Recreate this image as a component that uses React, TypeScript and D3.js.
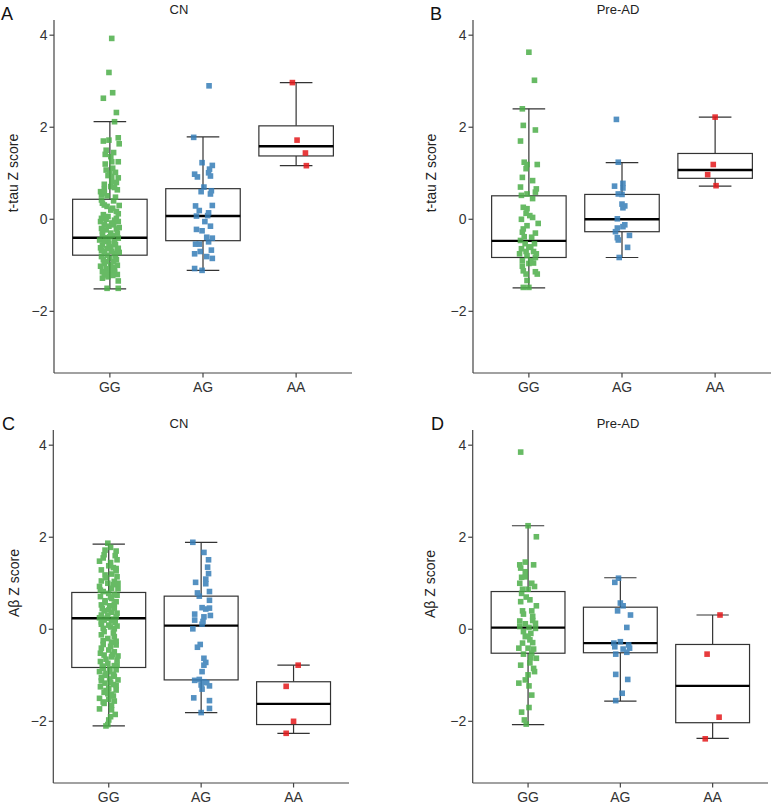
import React from "react";
import * as d3 from "d3";

// ---------- categories, ticks, colours ----------
const CATS = ["GG", "AG", "AA"];
const Y_TICKS = [-2, 0, 2, 4];
const Y_DOMAIN: [number, number] = [-3.34, 4.33];
const COLORS = ["#4DAF4A", "#377EB8", "#E41A1C"];

// ---------- box statistics [lower whisker, q1, median, q3, upper whisker] per genotype ----------
const tauCnBox = [
  [-1.51, -0.78, -0.4, 0.435, 2.12],
  [-1.11, -0.465, 0.072, 0.665, 1.79],
  [1.165, 1.376, 1.587, 2.03, 2.97],
];
const tauPreBox = [
  [-1.49, -0.83, -0.47, 0.51, 2.4],
  [-0.83, -0.27, 0.0, 0.54, 1.23],
  [0.72, 0.89, 1.07, 1.43, 2.22],
];
const abCnBox = [
  [-2.1, -0.83, 0.24, 0.8, 1.85],
  [-1.81, -1.1, 0.08, 0.72, 1.89],
  [-2.26, -2.07, -1.62, -1.14, -0.78],
];
const abPreBox = [
  [-2.07, -0.52, 0.035, 0.82, 2.25],
  [-1.56, -0.51, -0.3, 0.48, 1.12],
  [-2.37, -2.03, -1.23, -0.33, 0.31],
];

// ---------- jittered points [horizontal jitter (fraction of step), Z score] ----------
const tauCnGG = [
  [0.02, 3.93], [-0.01, 3.19], [0.03, 2.75], [-0.07, 2.63], [0.07, 2.32], [0.05, 2.12], [0.09, 1.77], [0.1, 1.64],
  [-0.07, 1.7], [-0.01, 1.72], [-0.04, 1.5], [-0.05, 1.41], [0.01, 1.36], [0.02, 1.25], [0.09, 1.25], [-0.04, 1.07],
  [0.03, 1.11], [0.0, 1.0], [0.02, 0.93], [0.09, 0.9], [-0.06, 0.76], [0.01, 0.71], [0.05, 0.69], [0.08, 0.64],
  [-0.09, 0.54], [-0.06, 0.57], [-0.03, 0.51], [0.06, 0.48], [-0.09, 0.42], [-0.08, 0.35], [-0.06, 0.31], [0.03, 0.24],
  [0.07, 0.17], [0.01, 0.2], [-0.09, 0.02], [-0.02, 0.06], [0.07, 0.02], [-0.1, -0.05], [-0.06, -0.12], [0.04, -0.12],
  [0.09, -0.05], [-0.09, -0.2], [-0.04, -0.23], [0.07, -0.21], [0.01, -0.3], [-0.08, -0.34], [0.09, -0.41], [-0.11, -0.45],
  [-0.02, -0.45], [0.05, -0.49], [-0.08, -0.56], [0.01, -0.6], [0.09, -0.63], [-0.06, -0.7], [0.05, -0.74], [-0.09, -0.81],
  [0.0, -0.85], [0.07, -0.88], [-0.06, -0.96], [0.01, -0.99], [-0.04, -1.07], [0.05, -1.08], [-0.08, -1.14], [0.0, -1.17],
  [0.05, -1.15], [-0.06, -1.21], [0.09, -1.34], [-0.03, -1.5], [0.09, -1.5],
  [-0.1, -0.62], [0.1, -0.72], [-0.03, -0.78], [0.04, -0.92], [-0.1, -1.02], [0.08, -1.2], [-0.02, -1.25], [0.03, -1.05],
  [-0.07, -0.88], [0.06, -0.55], [-0.05, -0.4], [0.08, -0.3], [-0.01, -0.15], [0.05, -0.02], [-0.07, 0.1], [0.09, 0.12],
  [-0.03, 0.28], [0.04, 0.4], [-0.06, 0.65], [0.02, 0.82], [-0.02, 0.95], [0.06, 1.02], [-0.05, 1.2], [0.04, 1.45],
  [-0.09, -0.68], [0.02, -0.7], [-0.04, -0.92], [0.08, -1.0], [-0.08, -1.28], [0.0, -1.1], [0.06, -0.8], [-0.01, -0.52],
  [0.03, -0.36], [-0.08, -0.26], [0.1, -0.18], [-0.04, 0.0], [0.02, -0.08], [0.1, 0.3], [-0.1, 0.6], [0.07, 0.8],
  [-0.05, -1.18], [0.03, -1.22], [0.08, -0.66], [-0.03, -0.64], [0.0, -0.38], [-0.06, -0.48],
];
const tauCnAG = [
  [0.065, 2.9], [-0.1, 1.78], [-0.01, 1.23], [0.1, 1.17], [0.07, 1.09], [0.06, 1.01], [-0.09, 0.98], [-0.06, 0.92],
  [0.08, 0.94], [0.01, 0.7], [0.09, 0.62], [-0.02, 0.6], [0.08, 0.55], [-0.08, 0.29], [0.1, 0.3], [-0.04, 0.19],
  [0.06, 0.14], [0.05, 0.08], [-0.07, 0.07], [0.02, -0.05], [0.08, -0.15], [-0.07, -0.22], [-0.01, -0.25], [0.04, -0.39],
  [0.1, -0.41], [0.06, -0.49], [-0.08, -0.54], [-0.04, -0.54], [0.09, -0.67], [-0.03, -0.7], [-0.09, -0.75], [0.04, -0.81],
  [0.1, -0.85], [-0.09, -1.07], [-0.01, -1.11],
];
const tauCnAA = [[-0.04, 2.97], [0.01, 1.72], [0.1, 1.44], [0.11, 1.165]];

const tauPreGG = [
  [0.0, 3.63], [0.06, 3.02], [-0.07, 2.4], [-0.06, 2.04], [0.07, 1.94], [-0.09, 1.7], [-0.05, 1.24], [-0.02, 1.19],
  [0.09, 1.19], [-0.03, 1.1], [-0.07, 0.91], [0.04, 0.84], [-0.09, 0.7], [0.08, 0.66], [0.07, 0.59], [-0.08, 0.52],
  [-0.02, 0.55], [-0.06, 0.26], [-0.02, 0.23], [-0.03, 0.13], [0.01, 0.08], [0.04, 0.04], [0.1, -0.09], [-0.02, -0.14],
  [-0.06, -0.21], [-0.07, -0.28], [0.07, -0.3], [0.03, -0.39], [-0.09, -0.46], [-0.04, -0.53], [0.06, -0.53], [-0.08, -0.64],
  [0.0, -0.61], [0.05, -0.7], [-0.1, -0.75], [-0.02, -0.79], [0.07, -0.83], [-0.07, -0.9], [0.0, -0.96], [0.02, -0.9],
  [-0.06, -1.12], [-0.03, -1.19], [0.07, -1.14], [0.09, -1.19], [-0.02, -1.33], [-0.06, -1.48], [0.0, -1.48],
  [-0.03, -0.7], [0.05, -0.95], [-0.07, -1.02], [0.08, -0.75], [0.02, -0.6], [-0.05, -0.38], [0.04, 0.45], [-0.08, 0.0],
];
const tauPreAG = [
  [-0.06, 2.17], [-0.04, 1.24], [-0.08, 0.72], [0.01, 0.78], [0.01, 0.68], [-0.04, 0.55], [0.0, 0.54], [0.0, 0.33],
  [0.03, 0.29], [0.01, 0.25], [-0.05, 0.01], [0.03, -0.12], [0.01, -0.16], [-0.05, -0.19], [-0.07, -0.27], [-0.05, -0.4],
  [-0.04, -0.45], [0.08, -0.35], [0.06, -0.61], [-0.03, -0.83],
];
const tauPreAA = [[0.0, 2.22], [-0.02, 1.19], [-0.08, 0.97], [0.01, 0.73]];

const abCnGG = [
  [-0.01, 1.87], [0.02, 1.78], [-0.04, 1.72], [0.08, 1.7], [-0.1, 1.48], [0.07, 1.6], [0.09, 1.51], [0.0, 1.38],
  [0.05, 1.34], [-0.08, 1.29], [0.08, 1.27], [-0.04, 1.18], [0.03, 1.2], [0.09, 1.14], [-0.08, 1.05], [0.06, 1.04],
  [-0.01, 1.0], [-0.1, 0.93], [0.03, 0.89], [0.1, 0.88], [-0.06, 0.82], [0.0, 0.78], [0.06, 0.76], [-0.09, 0.71],
  [0.03, 0.67], [-0.04, 0.62], [0.08, 0.6], [-0.08, 0.53], [0.01, 0.51], [0.06, 0.46], [-0.05, 0.4], [0.03, 0.37],
  [-0.08, 0.31], [-0.01, 0.3], [0.08, 0.27], [-0.05, 0.2], [0.03, 0.18], [0.07, 0.15], [-0.08, 0.11], [0.0, 0.09],
  [-0.06, 0.02], [0.06, 0.01], [-0.08, -0.12], [0.06, -0.16], [-0.06, -0.25], [0.03, -0.28], [0.08, -0.34], [-0.08, -0.41],
  [0.0, -0.45], [0.06, -0.49], [-0.05, -0.56], [0.03, -0.6], [0.09, -0.67], [-0.09, -0.7], [-0.01, -0.74], [0.06, -0.79],
  [-0.06, -0.85], [0.01, -0.86], [0.08, -0.88], [-0.1, -0.92], [-0.03, -0.96], [0.05, -0.98], [-0.08, -1.05], [0.01, -1.08],
  [0.1, -1.1], [-0.04, -1.17], [0.05, -1.2], [-0.09, -1.25], [0.0, -1.28], [0.08, -1.32], [-0.05, -1.37], [0.03, -1.41],
  [-0.1, -1.5], [0.0, -1.52], [0.06, -1.56], [-0.05, -1.61], [0.03, -1.65], [-0.1, -1.73], [0.02, -1.9], [0.0, -1.97],
  [-0.03, -2.1], [-0.01, -2.07],
  [-0.05, 1.62], [0.02, 1.45], [0.08, 1.32], [-0.03, 1.12], [0.05, 0.97], [-0.09, 0.85], [0.02, 0.7], [0.09, 0.74],
  [-0.04, 0.58], [0.06, 0.55], [-0.07, 0.45], [0.0, 0.42], [0.09, 0.35], [-0.02, 0.24], [0.05, 0.22], [-0.08, 0.16],
  [0.02, 0.05], [0.09, 0.07], [-0.05, -0.05], [0.05, -0.08], [-0.01, -0.2], [0.08, -0.26], [-0.06, -0.33], [0.02, -0.37],
  [-0.09, -0.52], [0.04, -0.55], [-0.03, -0.65], [0.09, -0.78], [-0.07, -0.8], [0.01, -0.92], [-0.04, -1.0], [0.06, -1.02],
  [-0.08, -1.12], [0.02, -1.15], [0.08, -1.22], [-0.03, -1.33], [0.05, -1.45], [-0.06, -1.58], [0.03, -1.75], [0.07, -1.85],
  [-0.01, -1.4], [0.1, -0.58], [-0.1, 0.25], [0.1, 1.0], [-0.06, 1.55],
];
const abCnAG = [
  [-0.09, 1.89], [0.03, 1.67], [0.08, 1.51], [0.07, 1.35], [0.08, 1.21], [0.05, 1.09], [-0.06, 1.02], [0.05, 0.99],
  [-0.04, 0.79], [-0.02, 0.72], [0.09, 0.82], [0.09, 0.63], [0.01, 0.47], [0.05, 0.44], [0.09, 0.46], [-0.07, 0.33],
  [0.03, 0.27], [0.1, 0.3], [-0.07, 0.2], [0.02, 0.17], [0.01, 0.11], [-0.09, 0.01], [-0.01, -0.33], [-0.04, -0.39],
  [0.03, -0.63], [0.05, -0.72], [0.03, -0.78], [0.01, -0.92], [-0.07, -1.11], [-0.02, -1.09], [0.03, -1.14], [0.06, -1.16],
  [0.09, -1.23], [0.0, -1.21], [0.01, -1.3], [-0.08, -1.49], [0.09, -1.55], [0.09, -1.72], [0.0, -1.81],
];
const abCnAA = [[0.05, -0.78], [-0.08, -1.24], [0.0, -2.0], [-0.08, -2.26]];

const abPreGG = [
  [-0.08, 3.85], [0.0, 2.25], [0.09, 2.01], [-0.09, 1.4], [0.06, 1.4], [-0.03, 1.46], [-0.08, 1.33], [-0.03, 1.25],
  [-0.07, 1.13], [-0.03, 1.14], [-0.09, 1.0], [0.04, 1.0], [-0.06, 0.87], [0.0, 0.87], [-0.07, 0.78], [0.02, 0.64],
  [0.09, 0.51], [-0.06, 0.4], [0.04, 0.4], [-0.05, 0.33], [-0.09, 0.18], [0.05, 0.19], [-0.03, 0.12], [0.08, 0.13],
  [-0.09, 0.06], [0.01, 0.04], [0.08, 0.02], [-0.05, -0.05], [0.03, -0.09], [-0.03, -0.16], [0.02, -0.23], [0.05, -0.29],
  [-0.1, -0.41], [0.0, -0.41], [0.06, -0.43], [-0.05, -0.54], [0.04, -0.52], [0.09, -0.63], [0.02, -0.73], [-0.08, -0.78],
  [0.06, -0.85], [0.07, -0.92], [0.0, -0.99], [-0.03, -1.1], [-0.1, -1.17], [0.01, -1.23], [0.04, -1.43], [0.01, -1.7],
  [-0.07, -1.8], [-0.04, -1.97], [-0.02, -2.06],
  [-0.02, 0.7], [0.05, 0.28], [-0.06, -0.3], [0.03, -0.62], [0.07, 0.93], [-0.08, 0.6], [0.0, -0.15],
];
const abPreAG = [
  [-0.02, 1.11], [-0.06, 1.02], [0.0, 0.57], [0.03, 0.51], [-0.03, 0.4], [0.11, 0.31], [0.07, 0.04], [0.0, -0.27],
  [-0.07, -0.3], [-0.06, -0.38], [0.09, -0.34], [0.03, -0.43], [0.1, -0.41], [0.07, -0.5], [-0.05, -0.54], [-0.05, -0.98],
  [0.08, -1.09], [0.02, -1.39], [-0.05, -1.55],
];
const abPreAA = [[0.08, 0.31], [-0.06, -0.54], [0.07, -1.91], [-0.08, -2.38]];

const PANELS = [
  { letter: "A", title: "CN", ylabel: "t-tau Z score", box: tauCnBox, pts: [tauCnGG, tauCnAG, tauCnAA],
    x0: 54, x1: 352, top: 20, bottom: 373, lx: 1, ly: 20, tx: 179, ty: 14, yl: 18, ylc: 173 },
  { letter: "B", title: "Pre-AD", ylabel: "t-tau Z score", box: tauPreBox, pts: [tauPreGG, tauPreAG, tauPreAA],
    x0: 473, x1: 771, top: 20, bottom: 373, lx: 430, ly: 20, tx: 618, ty: 14, yl: 436, ylc: 173 },
  { letter: "C", title: "CN", ylabel: "Aβ Z score", box: abCnBox, pts: [abCnGG, abCnAG, abCnAA],
    x0: 53.3, x1: 349, top: 430, bottom: 783, lx: 2, ly: 430, tx: 179, ty: 428, yl: 18.5, ylc: 583 },
  { letter: "D", title: "Pre-AD", ylabel: "Aβ Z score", box: abPreBox, pts: [abPreGG, abPreAG, abPreAA],
    x0: 472.7, x1: 768, top: 430, bottom: 783, lx: 431, ly: 430, tx: 618, ty: 428, yl: 435, ylc: 584 },
];

const FONT = "'Liberation Sans', Arial, Helvetica, sans-serif";

function Panel({ p }: { p: (typeof PANELS)[number] }) {
  const x = d3.scalePoint<string>().domain(CATS).range([p.x0, p.x1]).padding(0.6);
  const y = d3.scaleLinear().domain(Y_DOMAIN).range([p.bottom, p.top]);
  const step = x.step();
  const bw = step * 0.8;
  const cw = step * 0.35;
  const sz = 5.6;
  return (
    <g>
      <text x={p.lx} y={p.ly} fontSize={18} fontFamily={FONT} fill="#111">{p.letter}</text>
      <text x={p.tx} y={p.ty} fontSize={13} fontFamily={FONT} textAnchor="middle" fill="#222">{p.title}</text>
      <text transform={`translate(${p.yl},${p.ylc}) rotate(-90)`} fontSize={14} fontFamily={FONT}
        textAnchor="middle" fill="#222">{p.ylabel}</text>
      {/* boxes */}
      {CATS.map((c, i) => {
        const [lo, q1, med, q3, hi] = p.box[i];
        const cx = x(c)!;
        return (
          <g key={c}>
            <line x1={cx} x2={cx} y1={y(hi)} y2={y(q3)} stroke="#333" strokeWidth={1.2} />
            <line x1={cx} x2={cx} y1={y(q1)} y2={y(lo)} stroke="#333" strokeWidth={1.2} />
            <line x1={cx - cw / 2} x2={cx + cw / 2} y1={y(hi)} y2={y(hi)} stroke="#333" strokeWidth={1.2} />
            <line x1={cx - cw / 2} x2={cx + cw / 2} y1={y(lo)} y2={y(lo)} stroke="#333" strokeWidth={1.2} />
            <rect x={cx - bw / 2} y={y(q3)} width={bw} height={y(q1) - y(q3)} fill="#fff" stroke="#333" strokeWidth={1.2} />
            <line x1={cx - bw / 2} x2={cx + bw / 2} y1={y(med)} y2={y(med)} stroke="#000" strokeWidth={2.4} />
          </g>
        );
      })}
      {/* points */}
      {CATS.map((c, i) => (
        <g key={"p" + c} fill={COLORS[i]} opacity={0.85}>
          {p.pts[i].map(([j, v], k) => (
            <rect key={k} x={x(c)! + j * step - sz / 2} y={y(v) - sz / 2} width={sz} height={sz} />
          ))}
        </g>
      ))}
      {/* axes */}
      <line x1={p.x0} x2={p.x0} y1={p.top} y2={p.bottom} stroke="#444" strokeWidth={1.2} />
      <line x1={p.x0} x2={p.x1} y1={p.bottom} y2={p.bottom} stroke="#444" strokeWidth={1.2} />
      {Y_TICKS.map((t) => (
        <g key={t}>
          <line x1={p.x0 - 4.5} x2={p.x0} y1={y(t)} y2={y(t)} stroke="#444" strokeWidth={1.2} />
          <text x={p.x0 - 6.5} y={y(t)} dy="0.35em" textAnchor="end" fontSize={14} fontFamily={FONT} fill="#333">
            {t < 0 ? "\u2212" + Math.abs(t) : String(t)}
          </text>
        </g>
      ))}
      {CATS.map((c) => (
        <g key={"t" + c}>
          <line x1={x(c)!} x2={x(c)!} y1={p.bottom} y2={p.bottom + 4.5} stroke="#444" strokeWidth={1.2} />
          <text x={x(c)!} y={p.bottom + 19} textAnchor="middle" fontSize={14} fontFamily={FONT} fill="#333">{c}</text>
        </g>
      ))}
    </g>
  );
}

export default function App() {
  return (
    <svg width={776} height={808} style={{ position: "absolute", left: 0, top: 0, background: "#fff" }}>
      <rect width={776} height={808} fill="#fff" />
      {PANELS.map((p) => (
        <Panel key={p.letter} p={p} />
      ))}
    </svg>
  );
}
